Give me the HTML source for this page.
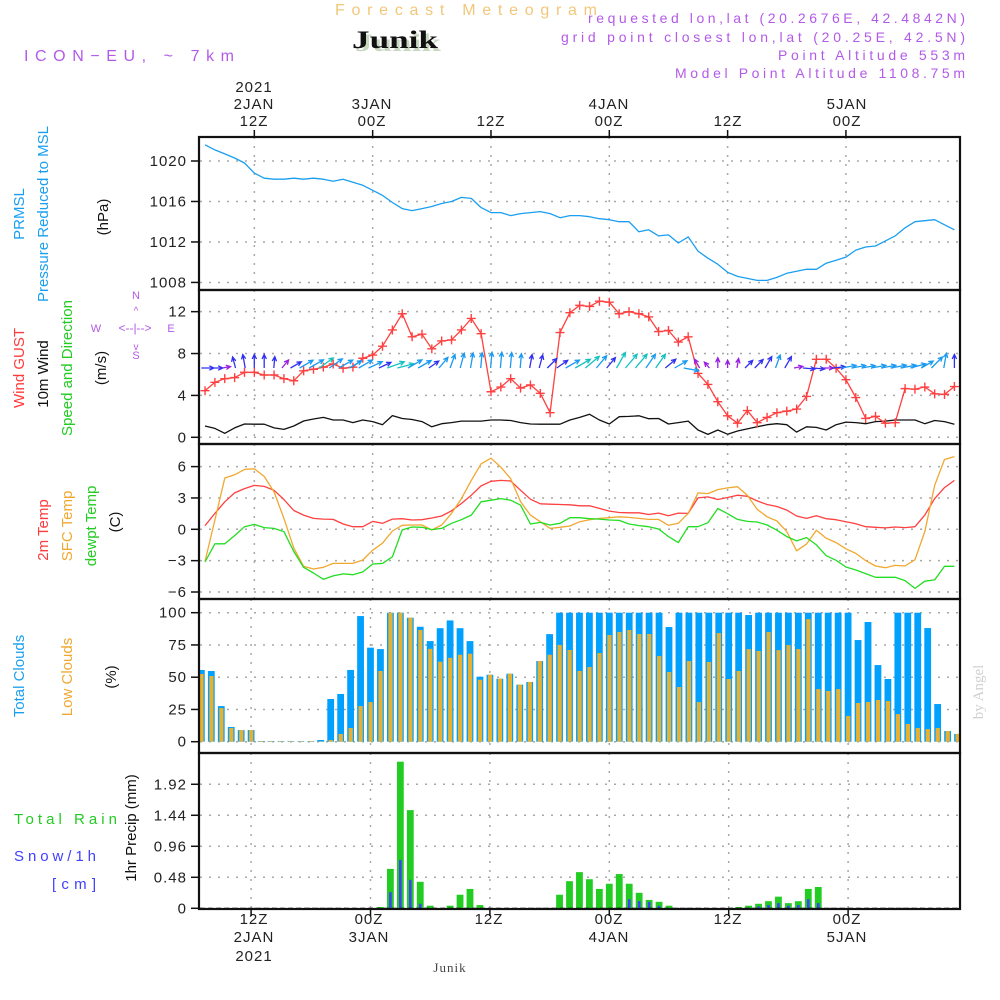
<!DOCTYPE html>
<html><head><meta charset="utf-8"><title>Forecast Meteogram Junik</title>
<style>
html,body{margin:0;padding:0;background:#fff;}
svg{display:block;font-family:"Liberation Sans",sans-serif;}
.tk{font-size:15px;fill:#222;letter-spacing:1px;}
.lb{font-size:15px;}
</style></head>
<body>
<svg id="chart" width="1000" height="1000" viewBox="0 0 1000 1000" xmlns="http://www.w3.org/2000/svg">
<defs>
<clipPath id="clipTop"><rect x="200" y="137" width="759" height="460"/></clipPath>
<clipPath id="clipBot"><rect x="200" y="600" width="759" height="308"/></clipPath>
</defs>
<!-- header -->
<text x="335" y="15" font-size="16" fill="#f2c77a" textLength="262" lengthAdjust="spacing">Forecast Meteogram</text>
<text x="355" y="51" font-family="Liberation Serif,serif" font-weight="bold" font-size="25" fill="#c8d8c0" textLength="86" lengthAdjust="spacingAndGlyphs">Junik</text>
<text x="352" y="48" font-family="Liberation Serif,serif" font-weight="bold" font-size="25" fill="#111" textLength="86" lengthAdjust="spacingAndGlyphs">Junik</text>
<text x="24" y="61" font-size="16" fill="#b35ae8" textLength="210" lengthAdjust="spacing">ICON−EU, ~ 7km</text>
<text x="965" y="23" text-anchor="end" font-size="14" fill="#b35ae8" textLength="377" lengthAdjust="spacing">requested lon,lat (20.2676E, 42.4842N)</text>
<text x="965" y="42" text-anchor="end" font-size="14" fill="#b35ae8" textLength="404" lengthAdjust="spacing">grid point closest lon,lat (20.25E, 42.5N)</text>
<text x="965" y="60" text-anchor="end" font-size="14" fill="#b35ae8" textLength="187" lengthAdjust="spacing">Point Altitude 553m</text>
<text x="965" y="78" text-anchor="end" font-size="14" fill="#b35ae8" textLength="290" lengthAdjust="spacing">Model Point Altitude 1108.75m</text>
<text transform="translate(983,692) rotate(-90)" text-anchor="middle" font-family="Liberation Serif,serif" font-size="15" fill="#d0d0d0">by Angel</text>

<g>
<text transform="translate(24,214) rotate(-90)" text-anchor="middle" class="lb" fill="#1a9ff0">PRMSL</text>
<text transform="translate(48,214) rotate(-90)" text-anchor="middle" class="lb" fill="#1a9ff0">Pressure Reduced to MSL</text>
<text transform="translate(108,217) rotate(-90)" text-anchor="middle" class="lb" fill="#111">(hPa)</text>
</g>
<g>
<text transform="translate(24,368) rotate(-90)" text-anchor="middle" class="lb" fill="#ff3b3b">Wind GUST</text>
<text transform="translate(48,374) rotate(-90)" text-anchor="middle" class="lb" fill="#111">10m Wind</text>
<text transform="translate(72,368) rotate(-90)" text-anchor="middle" class="lb" fill="#22cc22">Speed and Direction</text>
<text transform="translate(106,368) rotate(-90)" text-anchor="middle" class="lb" fill="#111">(m/s)</text>
</g>
<g fill="#b35ae8" font-size="11">
<text x="96" y="332" text-anchor="middle">W</text>
<text x="171" y="332" text-anchor="middle">E</text>
<text x="136" y="299" text-anchor="middle">N</text>
<text x="136" y="359" text-anchor="middle">S</text>
<text x="135" y="332" text-anchor="middle" font-size="12">&lt;--|--&gt;</text>
<text x="136" y="314" text-anchor="middle" font-size="10">^</text>
<text x="136" y="350" text-anchor="middle" font-size="10">v</text>
</g>
<g>
<text transform="translate(48,530) rotate(-90)" text-anchor="middle" class="lb" fill="#ff3b3b">2m Temp</text>
<text transform="translate(72,526) rotate(-90)" text-anchor="middle" class="lb" fill="#f0a830">SFC Temp</text>
<text transform="translate(96,526) rotate(-90)" text-anchor="middle" class="lb" fill="#22cc22">dewpt Temp</text>
<text transform="translate(120,522) rotate(-90)" text-anchor="middle" class="lb" fill="#111">(C)</text>
</g>
<g>
<text transform="translate(24,676) rotate(-90)" text-anchor="middle" class="lb" fill="#1a9ff0">Total Clouds</text>
<text transform="translate(72,677) rotate(-90)" text-anchor="middle" class="lb" fill="#f0a830">Low Clouds</text>
<text transform="translate(116,677) rotate(-90)" text-anchor="middle" class="lb" fill="#111">(%)</text>
</g>
<g>
<text transform="translate(136,828) rotate(-90)" text-anchor="middle" class="lb" fill="#111">1hr Precip (mm)</text>
<text x="14" y="824" class="lb" fill="#22cc22" textLength="103" lengthAdjust="spacing">Total  Rain</text>
<text x="14" y="861" class="lb" fill="#4040ff" textLength="82" lengthAdjust="spacing">Snow/1h</text>
<text x="52" y="889" class="lb" fill="#4040ff" textLength="44" lengthAdjust="spacing">[cm]</text>
</g>

<g class="tk" text-anchor="middle">
<text x="254" y="92">2021</text><text x="254" y="109">2JAN</text><text x="254" y="126">12Z</text>
<text x="372" y="109">3JAN</text><text x="372" y="126">00Z</text>
<text x="491" y="126">12Z</text>
<text x="609" y="109">4JAN</text><text x="609" y="126">00Z</text>
<text x="728" y="126">12Z</text>
<text x="847" y="109">5JAN</text><text x="847" y="126">00Z</text>
</g>
<g class="tk" text-anchor="middle">
<text x="254" y="924">12Z</text><text x="254" y="942">2JAN</text><text x="254" y="961">2021</text>
<text x="369" y="924">00Z</text><text x="369" y="942">3JAN</text>
<text x="489" y="924">12Z</text>
<text x="609" y="924">00Z</text><text x="609" y="942">4JAN</text>
<text x="728" y="924">12Z</text>
<text x="847" y="924">00Z</text><text x="847" y="942">5JAN</text>
</g>
<text x="450" y="972" text-anchor="middle" font-family="Liberation Serif,serif" font-size="13" fill="#444" letter-spacing="1">Junik</text>

<g id="grid"></g>
<g id="marksTop" clip-path="url(#clipTop)"></g>
<g id="marksBot" clip-path="url(#clipBot)"></g>
<g id="axes"></g>
</svg>

<script>
const hours = Array.from({length: 77}, (_, i) => i + 7);
const pressure = [1021.6,1021.1,1020.7,1020.3,1019.8,1018.8,1018.3,1018.2,1018.2,1018.3,1018.2,1018.3,1018.2,1018.0,1018.2,1017.9,1017.6,1017.1,1016.6,1015.9,1015.3,1015.1,1015.3,1015.5,1015.8,1016.0,1016.4,1016.3,1015.4,1014.9,1014.9,1014.6,1014.8,1014.9,1015.0,1014.8,1014.4,1014.6,1014.6,1014.5,1014.3,1014.2,1014.0,1014.0,1013.0,1013.2,1012.6,1012.7,1011.9,1012.5,1011.1,1010.4,1009.8,1009.0,1008.6,1008.4,1008.2,1008.2,1008.5,1008.9,1009.1,1009.3,1009.3,1009.9,1010.2,1010.5,1011.2,1011.5,1011.6,1012.1,1012.6,1013.4,1014.0,1014.1,1014.2,1013.7,1013.2];
const windGust = [4.45,5.25,5.6,5.7,6.2,6.2,5.95,5.95,5.6,5.4,6.35,6.5,6.7,7.0,6.6,6.7,7.55,7.85,8.7,10.25,11.8,9.6,9.85,8.45,9.2,9.3,10.25,11.35,9.9,4.35,4.8,5.6,4.7,5.0,4.2,2.35,10.0,11.9,12.6,12.5,13.0,12.9,11.8,12.0,11.8,11.5,10.1,10.2,9.1,9.6,6.1,5.05,3.4,2.05,1.35,2.55,1.4,1.9,2.35,2.5,2.7,3.9,7.45,7.45,6.6,5.5,3.8,1.8,2.0,1.35,1.4,4.65,4.6,4.8,4.15,4.1,4.85];
const windSpeed = [1.08,0.85,0.38,0.9,1.27,1.25,1.25,0.9,0.75,1.08,1.56,1.75,1.9,1.65,1.65,1.4,1.65,1.5,1.2,2.07,1.8,1.7,1.5,1.0,1.3,1.4,1.55,1.55,1.55,1.65,1.65,1.6,1.4,1.27,1.25,1.25,1.25,1.65,1.9,2.2,1.65,1.27,1.97,2.0,2.05,1.78,1.8,1.27,1.4,1.55,0.7,0.28,0.7,0.3,0.6,0.8,1.0,1.2,1.3,1.2,0.5,1.0,0.95,0.7,1.2,1.45,1.4,1.3,1.5,1.55,1.65,1.65,1.65,1.3,1.6,1.5,1.25];
const windDir = [90,90,80,345,350,0,0,5,40,60,60,60,55,55,60,60,60,65,65,70,75,60,60,55,40,20,15,10,5,5,5,5,5,10,15,45,55,60,60,50,40,40,30,40,40,35,35,50,60,100,330,320,0,0,10,45,45,30,20,30,80,95,95,90,85,80,80,80,80,80,80,80,75,60,45,10,0];
const temp2m = [0.35,1.52,2.63,3.48,3.89,4.2,4.11,3.73,2.85,1.8,1.36,1.04,0.98,0.95,0.51,0.25,0.25,0.76,0.57,0.98,1.01,0.89,0.92,1.08,1.27,1.77,2.47,3.26,4.15,4.59,4.68,4.62,3.73,2.88,2.44,2.4,2.37,2.34,2.25,2.25,2.0,1.74,1.61,1.58,1.58,1.42,1.55,1.3,1.55,1.52,3.0,3.1,2.85,3.04,3.26,3.16,2.72,2.37,2.18,1.84,1.27,1.04,1.3,1.01,0.92,0.73,0.54,0.25,0.19,0.13,0.22,0.16,0.25,1.36,2.94,3.99,4.68];
const tempSfc = [-3.07,0.89,4.91,5.22,5.73,5.79,5.06,3.57,1.04,-1.8,-3.54,-3.8,-3.64,-3.26,-3.26,-3.26,-2.94,-2.0,-1.33,-0.16,0.38,0.41,0.41,-0.06,0.41,1.52,2.94,4.68,6.27,6.8,5.95,4.84,2.63,1.36,0.73,0.09,0.19,0.32,0.73,0.92,1.04,1.11,1.2,1.14,1.04,0.95,0.95,0.38,0.57,1.52,3.48,3.42,3.8,3.96,4.08,3.26,1.9,1.2,0.79,-0.22,-2.06,-1.42,-0.09,-0.85,-1.27,-1.87,-2.31,-3.0,-3.51,-3.67,-3.45,-3.51,-2.91,-0.22,4.21,6.68,6.96];
const dewpoint = [-3.13,-1.39,-1.39,-0.6,0.25,0.47,0.16,0.09,-0.22,-2.12,-3.64,-4.18,-4.78,-4.46,-4.27,-4.34,-4.08,-3.32,-3.26,-2.63,-0.06,0.22,0.19,-0.03,0.09,0.57,0.92,1.36,2.63,2.78,2.94,2.78,2.31,0.51,0.66,0.41,0.57,1.11,1.11,1.01,0.98,0.89,0.85,0.51,0.35,0.25,0.03,-0.7,-1.27,0.25,0.25,0.63,1.99,1.49,0.95,0.76,0.7,0.41,-0.09,-0.7,-1.11,-0.79,-1.49,-2.53,-2.97,-3.61,-3.89,-4.24,-4.59,-4.59,-4.59,-4.91,-5.66,-4.97,-4.84,-3.54,-3.54];
const totalClouds = [55.6,54.8,27.6,11.4,9,9,0.5,0.5,0.5,0.5,0.5,0.5,1.3,33.1,37,55.6,97.4,72.9,71.8,100,100,96.1,89.1,78,88,94,88,78,50.4,51.9,48.8,52.7,44.2,46.3,62.5,83.4,100,100,100,100,100,100,100,100,100,100,100,88.9,100,100,100,100,100,100,100,98.2,100,100,100,100,100,100,100,100,100,100,78.8,92.8,59.4,48.6,100,100,100,88.1,29.2,8.3,6];
const lowClouds = [52.5,50.9,26.1,10.6,9,9,0.5,0.5,0.5,0.5,0.5,0.5,0.3,1.3,6,10.6,27.6,30.7,54.8,100,100,96.1,86.6,72,62,65,67.4,68.2,48,51.9,48.8,52.7,44.2,46.3,62.5,67.4,75,71.1,54.8,57.9,68.7,82.7,85,86.6,83.5,83.5,66.4,54,42.4,62.5,30.7,61.8,84.2,48.6,54.8,71.8,70.3,85,71,74.9,71.8,95,40.8,39.3,40.8,19.9,30,30.7,32.3,31.5,21.4,13.7,10.6,9.8,10.6,8.3,6];
const totalRain = [0,0,0,0,0,0,0,0,0,0,0,0,0,0,0,0,0,0,0.02,0.61,2.27,1.52,0.41,0.04,0,0.04,0.21,0.3,0.05,0,0,0,0,0,0,0,0.21,0.42,0.56,0.45,0.3,0.38,0.53,0.38,0.24,0.13,0.1,0.04,0,0,0,0,0,0,0.02,0.04,0.07,0.11,0.18,0.08,0.11,0.3,0.33,0,0,0,0,0,0,0,0,0,0,0,0,0,0];
const snow = [0,0,0,0,0,0,0,0,0,0,0,0,0,0,0,0,0,0,0,0.25,0.75,0.44,0.07,0,0,0,0,0,0,0,0,0,0,0,0,0,0,0,0,0,0,0,0.01,0.14,0.11,0.1,0.04,0,0,0,0,0,0,0,0,0.01,0.03,0.05,0.08,0.04,0.05,0.14,0.08,0,0,0,0,0,0,0,0,0,0,0,0,0,0];
const pressureTicks = [1008, 1012, 1016, 1020];
const windTicks = [0, 4, 8, 12];
const tempTicks = [-6, -3, 0, 3, 6];
const cloudTicks = [0, 25, 50, 75, 100];
const cloudTickLabels = ["0", "25", "50", "75", "100"];
const precipTicks = [0, 0.48, 0.96, 1.44, 1.92];
const precipTickLabels = ["0", "0.48", "0.96", "1.44", "1.92"];
const gridHours = [12, 24, 36, 48, 60, 72];

const xT = t => 609.3 + (t - 48) * 9.86;
const xB = t => 609.3 + (t - 48) * 9.95;
const yP = p => 161 + (1020 - p) * 10.12;
const yW = v => 437.3 - v * 10.47;
const yT = c => 529.3 - c * 10.45;
const yC = c => 741.7 - c * 1.29;
const yR = m => 908.3 - m * 64.6;

const NS = "http://www.w3.org/2000/svg";
function mk(parent, tag, attrs) {
  const e = document.createElementNS(NS, tag);
  for (const k in attrs) e.setAttribute(k, attrs[k]);
  parent.appendChild(e);
  return e;
}
const grid = document.getElementById("grid");
const top_ = document.getElementById("marksTop");
const bot = document.getElementById("marksBot");
const axes = document.getElementById("axes");

const panels = [
  {name: "pressure", y0: 137, y1: 290, xs: xT, ticks: pressureTicks, labels: pressureTicks.map(String), ys: yP},
  {name: "wind", y0: 290, y1: 444, xs: xT, ticks: windTicks, labels: windTicks.map(String), ys: yW},
  {name: "temperature", y0: 444, y1: 599, xs: xT, ticks: tempTicks, labels: tempTicks.map(v => v < 0 ? "\u2212" + (-v) : String(v)), ys: yT},
  {name: "cloud", y0: 599, y1: 753, xs: xB, ticks: cloudTicks, labels: cloudTickLabels, ys: yC},
  {name: "precip", y0: 753, y1: 909, xs: xB, ticks: precipTicks, labels: precipTickLabels, ys: yR}
];

panels.forEach(pn => {
  gridHours.forEach(h => {
    const gl = mk(grid, "line", {x1: pn.xs(h), x2: pn.xs(h), y1: pn.y0, y2: pn.y1, stroke: "#a8a8a8", "stroke-width": 1.5, "stroke-dasharray": "2,7"});
    
    
  });
  pn.ticks.forEach((v, i) => {
    const y = pn.ys(v);
    const hl = mk(grid, "line", {x1: 200, x2: 959, y1: y, y2: y, stroke: "#a8a8a8", "stroke-width": 1.5, "stroke-dasharray": "2,7"});
    
    
    const tm = mk(axes, "line", {x1: 191, x2: 199, y1: y, y2: y, stroke: "#111", "stroke-width": 1.5});
    
    
    const tl = mk(axes, "text", {x: 187, y: y + 5, "text-anchor": "end", class: "tk"});
    tl.textContent = pn.labels[i];
    
    
  });
  const fr = mk(axes, "rect", {x: 199, y: pn.y0, width: 761, height: pn.y1 - pn.y0, fill: "none", stroke: "#111", "stroke-width": 2.2});
  
  
});
gridHours.forEach(h => {
  const t1 = mk(axes, "line", {x1: xT(h), x2: xT(h), y1: 130, y2: 137, stroke: "#111", "stroke-width": 1.5});
  
  
  const t2 = mk(axes, "line", {x1: xB(h), x2: xB(h), y1: 909, y2: 916, stroke: "#111", "stroke-width": 1.5});
  
  
});

function polyline(parent, xs, vals, ys, color, name) {
  const pts = hours.map((h, i) => xs(h).toFixed(1) + "," + ys(vals[i]).toFixed(1)).join(" ");
  const pl = mk(parent, "polyline", {points: pts, fill: "none", stroke: color, "stroke-width": 1.3, "stroke-linejoin": "round"});
  
  
  return pl;
}

polyline(top_, xT, pressure, yP, "#1a9ff0", "pressure-line");

polyline(top_, xT, windSpeed, yW, "#111", "wind-speed-line");
polyline(top_, xT, windGust, yW, "#ff4040", "wind-gust-line");
hours.forEach((h, i) => {
  const x = xT(h), y = yW(windGust[i]);
  const g = mk(top_, "path", {d: `M${x-4.5},${y}H${x+4.5}M${x},${y-4.5}V${y+4.5}`, stroke: "#ff4040", "stroke-width": 1.4});
  
  
});

function arrowColor(s) {
  if (s < 0.8) return "#9a1ee0";
  if (s < 1.3) return "#3030f0";
  if (s < 1.8) return "#1a9af0";
  return "#14c0c0";
}
hours.forEach((h, i) => {
  const s = windSpeed[i];
  const a = windDir[i] * Math.PI / 180;
  const len = Math.min(18, 6 + s * 6);
  const x0 = xT(h) - Math.sin(a) * len * 0.3, y0 = 368;
  const x1 = x0 + Math.sin(a) * len, y1 = y0 - Math.cos(a) * len;
  const hl = 5;
  const b1 = a + Math.PI - 0.45, b2 = a + Math.PI + 0.45;
  const d = `M${x0.toFixed(1)},${y0}L${x1.toFixed(1)},${y1.toFixed(1)}` +
    `M${(x1 + Math.sin(b1) * hl).toFixed(1)},${(y1 - Math.cos(b1) * hl).toFixed(1)}L${x1.toFixed(1)},${y1.toFixed(1)}` +
    `L${(x1 + Math.sin(b2) * hl).toFixed(1)},${(y1 - Math.cos(b2) * hl).toFixed(1)}`;
  const ar = mk(top_, "path", {d: d, fill: "none", stroke: arrowColor(s), "stroke-width": 1.3});
  
  
});

polyline(top_, xT, temp2m, yT, "#ff4040", "temp-2m-line");
polyline(top_, xT, tempSfc, yT, "#f0a830", "temp-sfc-line");
polyline(top_, xT, dewpoint, yT, "#22dd22", "dewpoint-line");

hours.forEach((h, i) => {
  const x = xB(h);
  const y0 = yC(0);
  const yt = yC(totalClouds[i]);
  const b = mk(bot, "rect", {x: x - 3.4, y: yt, width: 6.8, height: y0 - yt, fill: "#00a0ff"});
  
  
  const yl = yC(lowClouds[i]);
  const l = mk(bot, "rect", {x: x - 2, y: yl, width: 4.2, height: y0 - yl, fill: "#e8b030"});
  
  
});

hours.forEach((h, i) => {
  const x = xB(h);
  const y0 = yR(0);
  if (totalRain[i] > 0) {
    const yt = yR(totalRain[i]);
    const r = mk(bot, "rect", {x: x - 3.4, y: yt, width: 6.8, height: y0 - yt, fill: "#22cc22"});
    
    
  }
  if (snow[i] > 0) {
    const ys = yR(snow[i]);
    const s = mk(bot, "rect", {x: x - 1.3, y: ys, width: 2.6, height: y0 - ys, fill: "#4040ff"});
    
    
  }
});
const base = mk(bot, "line", {x1: 200, x2: 959, y1: yR(0), y2: yR(0), stroke: "#111", "stroke-width": 1.2, "stroke-dasharray": "5,3"});


</script>
</body></html>
